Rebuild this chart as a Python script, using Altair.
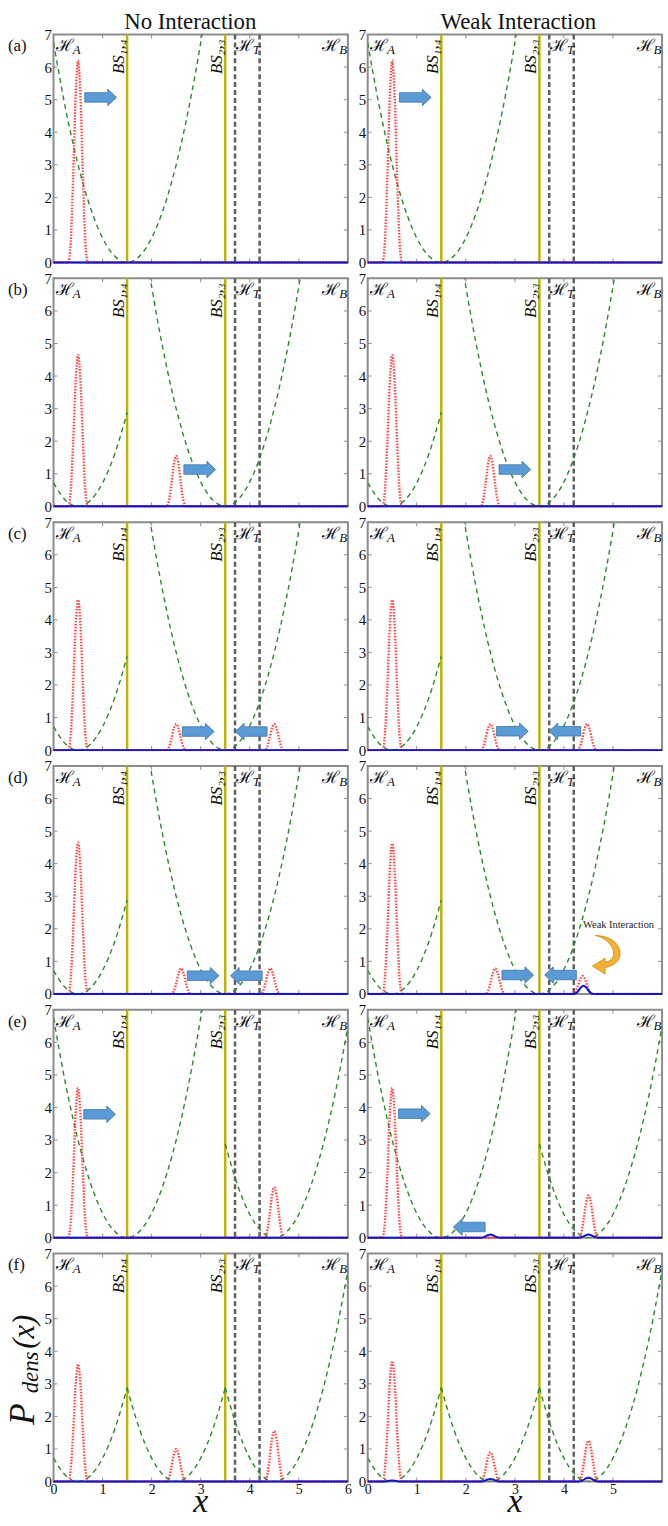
import altair as alt
import pandas as pd

SERIF = "Liberation Serif"
W, H = 297, 230

X_DOMAIN = [0, 6]
Y_DOMAIN = [0, 7]
X_TICKS = [0, 1, 2, 3, 4, 5, 6]
Y_TICKS = [0, 1, 2, 3, 4, 5, 6, 7]

BS_LINES = [1.5, 3.5]
BS_TEXT = ["BS\u2081,\u2084", "BS\u2082,\u2083"]
HT_LINES = [3.7, 4.2]
H_LABEL_X = [0.05, 3.72, 5.48]
H_LABEL_SUB = ["A", "T", "B"]

ROWS = ["a", "b", "c", "d", "e", "f"]
COL_TITLES = {"L": "No Interaction", "R": "Weak Interaction"}

# potential pieces (green dashed)
POT_WELL_X = [0.0, 0.25, 0.5, 0.75, 1.0, 1.25, 1.5, 1.75, 2.0, 2.25, 2.5, 2.75, 3.0, 3.25, 3.5]
POT_WELL_Y = [6.75, 4.69, 3.0, 1.69, 0.75, 0.19, 0.0, 0.19, 0.75, 1.69, 3.0, 4.69, 6.75, 9.19, 12.0]
POT_LEFT_X = [0.0, 0.25, 0.5, 0.75, 1.0, 1.25, 1.5]
POT_LEFT_Y = [0.72, 0.18, 0.0, 0.18, 0.72, 1.62, 2.88]
POT_MID_X = [1.5, 1.75, 2.0, 2.25, 2.5, 2.75, 3.0, 3.25, 3.5]
POT_MID_Y = [2.88, 1.62, 0.72, 0.18, 0.0, 0.18, 0.72, 1.62, 2.88]
POT_RIGHT_X = [3.5, 3.75, 4.0, 4.25, 4.5, 4.75, 5.0, 5.25, 5.5, 5.75, 6.0]
POT_RIGHT_Y = [2.88, 1.62, 0.72, 0.18, 0.0, 0.18, 0.72, 1.62, 2.88, 4.5, 6.48]
POT_SHIFT_X = [1.5, 1.75, 2.0, 2.25, 2.5, 2.75, 3.0, 3.25, 3.5, 3.75, 4.0, 4.25, 4.5, 4.75, 5.0, 5.25, 5.5]
POT_SHIFT_Y = [12.0, 9.19, 6.75, 4.69, 3.0, 1.69, 0.75, 0.19, 0.0, 0.19, 0.75, 1.69, 3.0, 4.69, 6.75, 9.19, 12.0]

POTENTIALS = {
    "well": (POT_WELL_X, POT_WELL_Y),
    "left": (POT_LEFT_X, POT_LEFT_Y),
    "mid": (POT_MID_X, POT_MID_Y),
    "right": (POT_RIGHT_X, POT_RIGHT_Y),
    "shift": (POT_SHIFT_X, POT_SHIFT_Y),
}
ROW_POTENTIALS = {
    "a": ["well"],
    "b": ["left", "shift"],
    "c": ["left", "shift"],
    "d": ["left", "shift"],
    "e": ["well", "right"],
    "f": ["left", "mid", "right"],
}

# wave-packet profile (offset from centre, relative height)
PEAK_DX = [-0.2, -0.15, -0.1, -0.05, 0.0, 0.05, 0.1, 0.15, 0.2]
PEAK_SHAPE = [0.0, 0.1, 0.42, 0.82, 1.0, 0.82, 0.42, 0.1, 0.0]

# (centre, height) of red dotted packets
RED_PEAKS = {
    "aL": [(0.5, 6.2)],
    "aR": [(0.5, 6.2)],
    "bL": [(0.5, 4.65), (2.5, 1.55)],
    "bR": [(0.5, 4.65), (2.5, 1.55)],
    "cL": [(0.5, 4.62), (2.5, 0.8), (4.5, 0.8)],
    "cR": [(0.5, 4.62), (2.5, 0.8), (4.47, 0.8)],
    "dL": [(0.5, 4.65), (2.6, 0.78), (4.42, 0.78)],
    "dR": [(0.5, 4.62), (2.6, 0.78), (4.38, 0.55)],
    "eL": [(0.5, 4.6), (4.5, 1.55)],
    "eR": [(0.5, 4.6), (4.5, 1.3)],
    "fL": [(0.5, 3.6), (2.5, 1.0), (4.5, 1.55)],
    "fR": [(0.5, 3.7), (2.5, 0.9), (4.5, 1.25)],
}
# (centre, height) of blue solid packets
BLUE_PEAKS = {
    "dR": [(4.4, 0.25)],
    "eR": [(2.5, 0.1), (4.5, 0.1)],
    "fR": [(0.5, 0.03), (2.5, 0.08), (4.5, 0.12)],
}

ARROWS_RIGHT = {
    "aL": [(0.96, 5.07)], "aR": [(0.97, 5.07)],
    "bL": [(2.98, 1.13)], "bR": [(3.0, 1.13)],
    "cL": [(2.95, 0.57)], "cR": [(2.95, 0.58)],
    "dL": [(3.05, 0.56)], "dR": [(3.06, 0.58)],
    "eL": [(0.94, 3.79)], "eR": [(0.95, 3.81)],
}
ARROWS_LEFT = {
    "cL": [(4.03, 0.57)], "cR": [(4.02, 0.58)],
    "dL": [(3.93, 0.56)], "dR": [(3.93, 0.58)],
    "eR": [(2.07, 0.33)],
}
NOTE = {"dR": (4.39, 2.03, "Weak Interaction")}
CURVED_ARROW = {"dR": (4.86, 1.19)}

GREEN = "#2a8a2a"
RED = "#ff2e2e"
BLUE = "#1414c8"
OLIVE = "#bfb200"
GRAY = "#5f5f5f"
FRAME = "#8c8c8c"

ARROW_R_PATH = "M-1,-0.3L0.45,-0.3L0.45,-0.52L1,0L0.45,0.52L0.45,0.3L-1,0.3Z"
ARROW_L_PATH = "M1,-0.3L-0.45,-0.3L-0.45,-0.52L-1,0L-0.45,0.52L-0.45,0.3L1,0.3Z"
CURVE_PATH = ("M-0.55,-1C0.35,-0.95 0.75,-0.5 0.7,0C0.65,0.35 0.35,0.55 -0.05,0.62"
              "L-0.05,0.95L-0.7,0.55L-0.05,0.15L-0.05,0.35"
              "C0.2,0.3 0.38,0.15 0.38,-0.05C0.38,-0.5 0,-0.85 -0.55,-1Z")


def xenc(show, values):
    if show:
        axis = alt.Axis(values=values, format="d", labelFont=SERIF, labelFontSize=14,
                        labelColor="#111111", labelPadding=1, ticks=False, domain=False,
                        grid=False, title=None, labelFlush=False, labelOverlap=False)
    else:
        axis = None
    return alt.X("x:Q", scale=alt.Scale(domain=X_DOMAIN, nice=False, zero=False), axis=axis)


def yenc():
    return alt.Y("y:Q", scale=alt.Scale(domain=Y_DOMAIN, nice=False, zero=False),
                 axis=alt.Axis(values=Y_TICKS, format="d", labelFont=SERIF, labelFontSize=15,
                               labelColor="#111111", labelPadding=2, ticks=False, domain=False,
                               grid=False, title=None, labelFlush=False, labelOverlap=False))


def curve(peaks):
    pts = [(0.0, 0.0), (6.0, 0.0)]
    for c, h in peaks:
        pts += [(round(c + dx, 4), h * s) for dx, s in zip(PEAK_DX, PEAK_SHAPE)]
    pts.sort()
    return pd.DataFrame(pts, columns=["x", "y"])


def panel(row, col):
    key = row + col
    bottom = row == "f"
    xv = X_TICKS if col == "L" else X_TICKS[:-1]

    def X():
        return xenc(bottom, xv)

    layers = []
    one = pd.DataFrame({"k": [0]})

    # frame inner ticks
    xt = pd.DataFrame({"x": X_TICKS})
    yt = pd.DataFrame({"y": Y_TICKS})
    layers.append(alt.Chart(xt).mark_rule(color=FRAME, strokeWidth=1).encode(
        x=X(), y=alt.value(0), y2=alt.value(4)))
    layers.append(alt.Chart(xt).mark_rule(color=FRAME, strokeWidth=1).encode(
        x=X(), y=alt.value(H), y2=alt.value(H - 4)))
    layers.append(alt.Chart(yt).mark_rule(color=FRAME, strokeWidth=1).encode(
        y=yenc(), x=alt.value(0), x2=alt.value(4)))
    layers.append(alt.Chart(yt).mark_rule(color=FRAME, strokeWidth=1).encode(
        y=yenc(), x=alt.value(W), x2=alt.value(W - 4)))

    # vertical lines
    layers.append(alt.Chart(pd.DataFrame({"x": HT_LINES})).mark_rule(
        color=GRAY, strokeWidth=2.5, strokeDash=[5, 3]).encode(x=X()))
    layers.append(alt.Chart(pd.DataFrame({"x": BS_LINES})).mark_rule(
        color=OLIVE, strokeWidth=2.5).encode(x=X()))

    # potential
    pot = []
    for name in ROW_POTENTIALS[row]:
        xs, ys = POTENTIALS[name]
        pot += [{"x": a, "y": b, "seg": name} for a, b in zip(xs, ys)]
    layers.append(alt.Chart(pd.DataFrame(pot)).mark_line(
        clip=True, interpolate="monotone", color=GREEN, strokeWidth=1.4,
        strokeDash=[5, 4]).encode(x=X(), y=yenc(), detail="seg:N"))

    # red dotted packets
    layers.append(alt.Chart(curve(RED_PEAKS.get(key, []))).mark_line(
        interpolate="monotone", color=RED, strokeWidth=2.4, strokeDash=[1.6, 1.4],
        opacity=0.85).encode(x=X(), y=yenc()))
    # blue solid
    layers.append(alt.Chart(curve(BLUE_PEAKS.get(key, []))).mark_line(
        interpolate="monotone", color=BLUE, strokeWidth=2).encode(x=X(), y=yenc()))

    # arrows
    if key in ARROWS_RIGHT:
        d = pd.DataFrame(ARROWS_RIGHT[key], columns=["x", "y"])
        layers.append(alt.Chart(d).mark_point(
            shape=ARROW_R_PATH, size=1024, filled=True, fill="#5b9bd5",
            stroke="#3e74a8", strokeWidth=0.8, opacity=1).encode(x=X(), y=yenc()))
    if key in ARROWS_LEFT:
        d = pd.DataFrame(ARROWS_LEFT[key], columns=["x", "y"])
        layers.append(alt.Chart(d).mark_point(
            shape=ARROW_L_PATH, size=1024, filled=True, fill="#5b9bd5",
            stroke="#3e74a8", strokeWidth=0.8, opacity=1).encode(x=X(), y=yenc()))
    if key in CURVED_ARROW:
        cx, cy = CURVED_ARROW[key]
        d = pd.DataFrame({"x": [cx], "y": [cy]})
        layers.append(alt.Chart(d).mark_point(
            shape=CURVE_PATH, size=1600, filled=True, fill="#f2b134",
            stroke="#d08a1a", strokeWidth=0.8, opacity=1).encode(x=X(), y=yenc()))
    if key in NOTE:
        nx, ny, nt = NOTE[key]
        d = pd.DataFrame({"x": [nx], "y": [ny], "t": [nt]})
        layers.append(alt.Chart(d).mark_text(
            align="left", baseline="alphabetic", font=SERIF, fontSize=10.5,
            color="#222222", clip=True).encode(x=X(), y=yenc(), text="t:N"))

    # region labels
    hl = pd.DataFrame({"x": H_LABEL_X, "s": H_LABEL_SUB, "h": ["\u210b"] * 3})
    layers.append(alt.Chart(hl).mark_text(
        align="left", baseline="alphabetic", font=SERIF, fontSize=17,
        color="#111111", clip=True).encode(x=X(), y=alt.value(17), text="h:N"))
    layers.append(alt.Chart(hl).mark_text(
        align="left", baseline="alphabetic", font=SERIF, fontSize=13, fontStyle="italic",
        color="#111111", dx=17, clip=True).encode(x=X(), y=alt.value(20), text="s:N"))
    bs = pd.DataFrame({"x": BS_LINES, "t": BS_TEXT})
    layers.append(alt.Chart(bs).mark_text(
        angle=270, align="right", baseline="alphabetic", dy=-3.5, font=SERIF,
        fontSize=17, fontStyle="italic", color="#111111").encode(
        x=X(), y=alt.value(5), text="t:N"))

    # titles / row labels / axis labels
    if row == "a":
        tx = 138 if col == "L" else 152
        d = pd.DataFrame({"t": [COL_TITLES[col]]})
        layers.append(alt.Chart(d).mark_text(
            align="center", baseline="alphabetic", font=SERIF, fontSize=23,
            color="#111111").encode(x=alt.value(tx), y=alt.value(-6), text="t:N"))
    if col == "L":
        d = pd.DataFrame({"t": ["(" + row + ")"]})
        layers.append(alt.Chart(d).mark_text(
            align="left", baseline="alphabetic", font=SERIF, fontSize=17,
            color="#111111").encode(x=alt.value(-46), y=alt.value(17), text="t:N"))
    if key == "aL":
        layers.append(alt.Chart(one).mark_rule(strokeOpacity=0, strokeWidth=0.1).encode(
            x=alt.value(-53), y=alt.value(-27), y2=alt.value(-25)))
    if bottom:
        d = pd.DataFrame({"t": ["x"]})
        layers.append(alt.Chart(d).mark_text(
            align="center", baseline="alphabetic", font=SERIF, fontSize=34,
            fontStyle="italic", color="#111111").encode(
            x=alt.value(W / 2), y=alt.value(H + 31), text="t:N"))
    if key == "fL":
        parts = [("P", 36, -19.5, 173), ("dens", 23, -15.5, 141), ("(x)", 31, -19.5, 96)]
        for t, fs, px, py in parts:
            d = pd.DataFrame({"t": [t]})
            layers.append(alt.Chart(d).mark_text(
                angle=270, align="left", baseline="alphabetic", font=SERIF,
                fontSize=fs, fontStyle="italic", color="#111111").encode(
                x=alt.value(px), y=alt.value(py), text="t:N"))

    return alt.layer(*layers).properties(width=W, height=H)


panels = []
for r in ROWS:
    for c in ["L", "R"]:
        panels.append(panel(r, c))

chart = alt.concat(*panels, columns=2, spacing={"row": 16, "column": 20},
                   bounds="flush").properties(padding=0).configure_view(
    stroke=FRAME, strokeWidth=2)

chart.save("out.html", embed_options={"renderer": "svg", "actions": False})
